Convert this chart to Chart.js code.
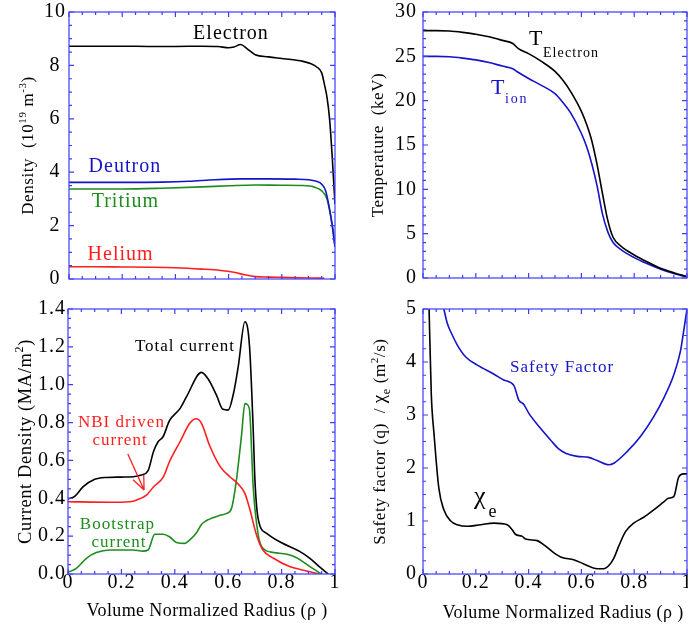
<!DOCTYPE html>
<html lang="en">
<head>
<meta charset="UTF-8">
<title>Plasma profiles</title>
<script src="https://cdn.jsdelivr.net/npm/chart.js@4.4.1/dist/chart.umd.min.js"></script>
<style>
  * { margin: 0; padding: 0; box-sizing: border-box; }
  body { background: #fff; width: 688px; height: 628px; overflow: hidden; position: relative; }
  .panel { position: absolute; }
</style>
</head>
<body>
<div class="panel" style="left:0;top:0"><canvas id="density" width="344" height="300"></canvas></div>
<div class="panel" style="left:344px;top:0"><canvas id="temperature" width="354" height="300"></canvas></div>
<div class="panel" style="left:0;top:295px"><canvas id="current" width="344" height="333"></canvas></div>
<div class="panel" style="left:344px;top:295px"><canvas id="safety" width="354" height="333"></canvas></div>

<script>
// ---- density (10^19 m^-3) ----
const rhoElectron = [0, 0.1, 0.2, 0.3, 0.4, 0.5, 0.56, 0.6, 0.62, 0.645, 0.67, 0.7, 0.75, 0.8, 0.85, 0.88, 0.91, 0.93, 0.95, 0.96, 0.97, 0.98, 0.99, 1.0];
const nElectron   = [8.72, 8.72, 8.72, 8.71, 8.71, 8.72, 8.71, 8.66, 8.69, 8.78, 8.62, 8.4, 8.32, 8.26, 8.2, 8.15, 8.06, 7.95, 7.72, 7.3, 6.8, 5.95, 4.5, 2.8];
const rhoDeutron  = [0, 0.2, 0.35, 0.45, 0.55, 0.65, 0.75, 0.85, 0.9, 0.93, 0.95, 0.965, 0.98, 0.99, 1.0];
const nDeutron    = [3.62, 3.62, 3.63, 3.66, 3.72, 3.75, 3.75, 3.74, 3.72, 3.66, 3.55, 3.3, 2.6, 2.0, 1.2];
const rhoTritium  = [0, 0.2, 0.35, 0.5, 0.6, 0.7, 0.8, 0.88, 0.92, 0.95, 0.97, 0.98, 0.99, 1.0];
const nTritium    = [3.37, 3.37, 3.4, 3.45, 3.49, 3.52, 3.51, 3.5, 3.45, 3.3, 3.0, 2.55, 1.95, 1.2];
const rhoHelium   = [0, 0.1, 0.2, 0.3, 0.4, 0.5, 0.57, 0.62, 0.66, 0.7, 0.75, 0.8, 0.9, 0.96];
const nHelium     = [0.46, 0.46, 0.45, 0.44, 0.42, 0.37, 0.32, 0.25, 0.16, 0.09, 0.07, 0.06, 0.04, 0.03];

// ---- temperature (keV) ----
const rhoTemp   = [0, 0.05, 0.1, 0.15, 0.2, 0.25, 0.3, 0.34, 0.36, 0.4, 0.45, 0.5, 0.53, 0.56, 0.6, 0.62, 0.64, 0.66, 0.68, 0.7, 0.72, 0.75, 0.8, 0.85, 0.9, 0.95, 1.0];
const tElectron = [27.9, 27.9, 27.85, 27.7, 27.5, 27.2, 26.8, 26.45, 25.9, 25.3, 24.4, 23.3, 22.3, 21.0, 18.8, 17.3, 15.4, 12.7, 9.5, 6.5, 4.6, 3.6, 2.6, 1.8, 1.1, 0.6, 0.15];
const tIon      = [25.0, 25.0, 24.95, 24.8, 24.6, 24.3, 23.9, 23.6, 23.2, 22.5, 21.7, 20.8, 19.8, 18.6, 16.3, 14.8, 12.8, 10.3, 7.2, 5.2, 4.0, 3.2, 2.3, 1.6, 1.0, 0.5, 0.12];

// ---- current density (MA/m^2) ----
const rhoTotal  = [0, 0.025, 0.056, 0.1, 0.144, 0.2, 0.244, 0.275, 0.3, 0.32, 0.338, 0.356, 0.38, 0.42, 0.444, 0.5, 0.525, 0.556, 0.58, 0.6, 0.62, 0.638, 0.6625, 0.68, 0.694, 0.7, 0.7125, 0.744, 0.8, 0.869, 0.906, 0.94, 0.975];
const jTotal    = [0.396, 0.41, 0.46, 0.5, 0.51, 0.512, 0.514, 0.523, 0.546, 0.646, 0.7, 0.725, 0.81, 0.875, 0.937, 1.065, 1.03, 0.945, 0.87, 0.866, 0.955, 1.1, 1.333, 1.2, 0.75, 0.5, 0.29, 0.215, 0.165, 0.118, 0.083, 0.04, 0];
const rhoNbi    = [0, 0.156, 0.23, 0.256, 0.294, 0.32, 0.356, 0.38, 0.42, 0.456, 0.48, 0.5, 0.53, 0.57, 0.606, 0.638, 0.6625, 0.68, 0.706, 0.73, 0.77, 0.83, 0.894, 0.94];
const jNbi      = [0.382, 0.379, 0.382, 0.39, 0.417, 0.46, 0.51, 0.593, 0.7, 0.796, 0.82, 0.796, 0.68, 0.567, 0.514, 0.474, 0.426, 0.347, 0.206, 0.127, 0.083, 0.039, 0.016, 0];
const rhoBoot   = [0, 0.031, 0.069, 0.106, 0.156, 0.244, 0.28, 0.3, 0.325, 0.356, 0.38, 0.406, 0.4375, 0.456, 0.48, 0.5, 0.53, 0.57, 0.594, 0.6125, 0.63, 0.65, 0.6625, 0.679, 0.694, 0.7125, 0.73, 0.77, 0.82, 0.856, 0.906, 0.95];
const jBoot     = [0.009, 0.03, 0.083, 0.113, 0.127, 0.127, 0.121, 0.127, 0.21, 0.21, 0.197, 0.167, 0.162, 0.18, 0.215, 0.262, 0.29, 0.31, 0.32, 0.347, 0.488, 0.734, 0.9, 0.875, 0.452, 0.206, 0.136, 0.114, 0.104, 0.086, 0.039, 0];

// ---- safety factor q and chi_e (m^2/s) ----
const rhoQ = [0.079, 0.092, 0.105, 0.13, 0.161, 0.206, 0.269, 0.306, 0.344, 0.363, 0.382, 0.401, 0.445, 0.483, 0.514, 0.54, 0.584, 0.628, 0.66, 0.704, 0.723, 0.773, 0.823, 0.874, 0.912, 0.95, 0.975, 0.987, 1.0];
const qVal = [5.0, 4.73, 4.57, 4.32, 4.1, 3.94, 3.77, 3.66, 3.56, 3.28, 3.2, 3.03, 2.75, 2.53, 2.36, 2.28, 2.22, 2.2, 2.14, 2.06, 2.09, 2.31, 2.59, 2.97, 3.32, 3.76, 4.2, 4.57, 5.0];
const rhoChi = [0.023, 0.0315, 0.042, 0.06, 0.079, 0.105, 0.13, 0.168, 0.218, 0.269, 0.319, 0.338, 0.35, 0.376, 0.388, 0.4325, 0.458, 0.496, 0.527, 0.571, 0.609, 0.66, 0.685, 0.704, 0.723, 0.741, 0.767, 0.798, 0.836, 0.874, 0.912, 0.93, 0.95, 0.968, 0.987, 1.0];
const chiVal = [5.0, 3.38, 2.63, 1.62, 1.21, 1.0, 0.93, 0.9, 0.93, 0.96, 0.93, 0.835, 0.75, 0.71, 0.66, 0.63, 0.55, 0.4, 0.31, 0.27, 0.19, 0.1, 0.1, 0.16, 0.3, 0.52, 0.8, 0.96, 1.07, 1.21, 1.36, 1.43, 1.46, 1.82, 1.89, 1.89];

const xTicks = ['0', '0.2', '0.4', '0.6', '0.8', '1'];

const BLACK = '#000000', BLUE = '#1414c8', GREEN = '#1e8c1e', RED = '#ff1e1e';
const FRAME = '#3c3cff';
const SERIF = '"Liberation Serif", "Times New Roman", serif';

function pts(xs, ys) {
  return xs.map((x, i) => ({ x: x, y: ys[i] }));
}

// per-panel decorations: frame ticks, axis titles, in-plot notes
const panelCfg = {
  density: {
    x: [0.2, 0.05], y: [2, 0.5],
    yTitle: { x: 27, parts: [['Density  (10', 17, 0], ['19', 11, -7], [' m', 17, 0], ['-3', 11, -7], [')', 17, 0]] },
    notes: [
      { text: 'Electron', x: 0.609, y: 9.2, color: BLACK, size: 20 },
      { text: 'Deutron', x: 0.21, y: 4.19, color: BLUE, size: 20 },
      { text: 'Tritium', x: 0.212, y: 2.9, color: GREEN, size: 20 },
      { text: 'Helium', x: 0.194, y: 0.9, color: RED, size: 20 }
    ]
  },
  temperature: {
    x: [0.2, 0.05], y: [5, 1],
    yTitle: { x: 33, parts: [['Temperature  (keV)', 17, 0]] },
    notes: [
      { text: 'T', sub: 'Electron', x: 0.4015, y: 26.3, color: BLACK, size: 22, subSize: 14, subDy: 11.7 },
      { text: 'T', sub: 'ion', x: 0.258, y: 20.8, color: BLUE, size: 22, subSize: 14, subDy: 9.5, subSpacing: 1.8 }
    ]
  },
  current: {
    x: [0.2, 0.05], y: [0.2, 0.05],
    yTitle: { x: 25, parts: [['Current Density (MA/m', 18.5, 0], ['2', 12, -8], [')', 18.5, 0]] },
    xTitle: { x: 207, y: 315 },
    notes: [
      { text: 'Total current', x: 0.438, y: 1.2, color: BLACK, size: 17 },
      { text: 'NBI driven', x: 0.2, y: 0.799, color: RED, size: 17 },
      { text: 'current', x: 0.195, y: 0.704, color: RED, size: 17 },
      { text: 'Bootstrap', x: 0.185, y: 0.259, color: GREEN, size: 17 },
      { text: 'current', x: 0.191, y: 0.164, color: GREEN, size: 17 }
    ],
    arrow: { from: [0.224, 0.634], to: [0.285, 0.444], color: RED }
  },
  safety: {
    x: [0.2, 0.05], y: [1, 0.25],
    yTitle: { x: 35.5, parts: [['Safety factor (q)  / ', 17, 0], ['\u03c7', 19, 0], ['e', 12, 5], [' (m', 17, 0], ['2', 11, -7], ['/s)', 17, 0]] },
    xTitle: { x: 219, y: 317 },
    notes: [
      { text: 'Safety Factor', x: 0.527, y: 3.89, color: BLUE, size: 17 },
      { text: '\u03c7', sub: 'e', x: 0.193, y: 1.33, color: BLACK, size: 26, subSize: 18, subDy: 13, subGap: 3 }
    ]
  }
};

function font(size) {
  return size + 'px ' + SERIF;
}

function drawParts(ctx, parts, cx, cy, spacing) {
  ctx.letterSpacing = spacing + 'px';
  let total = 0;
  parts.forEach(p => { ctx.font = font(p[1]); total += ctx.measureText(p[0]).width; });
  let x = cx - total / 2;
  const base = cy + 0.33 * parts[0][1];
  ctx.textAlign = 'left';
  ctx.textBaseline = 'alphabetic';
  parts.forEach(p => {
    ctx.font = font(p[1]);
    ctx.fillText(p[0], x, base + p[2]);
    x += ctx.measureText(p[0]).width;
  });
}

const framePlugin = {
  id: 'frame',
  beforeDraw(chart) {
    chart.ctx.letterSpacing = '1px';
  },
  afterDraw(chart) {
    const cfg = panelCfg[chart.canvas.id];
    const ctx = chart.ctx;
    const a = chart.chartArea;
    const xs = chart.scales.x, ys = chart.scales.y;
    ctx.save();

    // border and inward ticks on all four sides
    ctx.strokeStyle = FRAME;
    ctx.lineWidth = 1.2;
    ctx.strokeRect(a.left, a.top, a.right - a.left, a.bottom - a.top);
    ctx.beginPath();
    const nx = Math.round((xs.max - xs.min) / cfg.x[1]);
    for (let i = 0; i <= nx; i++) {
      const v = xs.min + i * cfg.x[1];
      const major = Math.abs(v / cfg.x[0] - Math.round(v / cfg.x[0])) < 1e-6;
      const len = major ? 5 : 3;
      const px = xs.getPixelForValue(v);
      ctx.moveTo(px, a.bottom); ctx.lineTo(px, a.bottom - len);
      ctx.moveTo(px, a.top); ctx.lineTo(px, a.top + len);
    }
    const ny = Math.round((ys.max - ys.min) / cfg.y[1]);
    for (let i = 0; i <= ny; i++) {
      const v = ys.min + i * cfg.y[1];
      const major = Math.abs(v / cfg.y[0] - Math.round(v / cfg.y[0])) < 1e-6;
      const len = major ? 5 : 3;
      const py = ys.getPixelForValue(v);
      ctx.moveTo(a.left, py); ctx.lineTo(a.left + len, py);
      ctx.moveTo(a.right, py); ctx.lineTo(a.right - len, py);
    }
    ctx.stroke();

    // notes inside the plot
    cfg.notes.forEach(n => {
      const px = xs.getPixelForValue(n.x), py = ys.getPixelForValue(n.y);
      ctx.fillStyle = n.color;
      if (n.sub) {
        ctx.letterSpacing = '0px';
        ctx.font = font(n.size);
        ctx.textAlign = 'left';
        ctx.textBaseline = 'alphabetic';
        ctx.fillText(n.text, px, py);
        const w = ctx.measureText(n.text).width;
        ctx.letterSpacing = (n.subSpacing || 1.1) + 'px';
        ctx.font = font(n.subSize);
        ctx.fillText(n.sub, px + w + (n.subGap || 0.5), py + n.subDy);
      } else {
        ctx.letterSpacing = '1px';
        ctx.font = font(n.size);
        ctx.textAlign = 'center';
        ctx.textBaseline = 'middle';
        ctx.fillText(n.text, px, py);
      }
    });

    // arrow
    if (cfg.arrow) {
      const x0 = xs.getPixelForValue(cfg.arrow.from[0]), y0 = ys.getPixelForValue(cfg.arrow.from[1]);
      const x1 = xs.getPixelForValue(cfg.arrow.to[0]), y1 = ys.getPixelForValue(cfg.arrow.to[1]);
      const ang = Math.atan2(y1 - y0, x1 - x0);
      ctx.strokeStyle = cfg.arrow.color;
      ctx.lineWidth = 1.3;
      ctx.beginPath();
      ctx.moveTo(x0, y0); ctx.lineTo(x1, y1);
      [0.4, -0.4].forEach(d => {
        ctx.moveTo(x1, y1);
        ctx.lineTo(x1 - 15 * Math.cos(ang + d), y1 - 15 * Math.sin(ang + d));
      });
      ctx.stroke();
    }

    // axis titles
    ctx.fillStyle = BLACK;
    ctx.save();
    ctx.translate(cfg.yTitle.x, (a.top + a.bottom) / 2 + (cfg.yTitle.dy || 0));
    ctx.rotate(-Math.PI / 2);
    drawParts(ctx, cfg.yTitle.parts, 0, 0, 0.6);
    ctx.restore();
    if (cfg.xTitle) {
      drawParts(ctx, [['Volume Normalized Radius (\u03c1 )', 18, 0]], cfg.xTitle.x, cfg.xTitle.y, 0.4);
    }
    ctx.restore();
  }
};

function makeChart(id, datasets, o) {
  const tickFont = { family: SERIF, size: 20 };
  return new Chart(document.getElementById(id), {
    type: 'line',
    data: { datasets: datasets },
    options: {
      responsive: false,
      animation: false,
      layout: { padding: o.pad },
      plugins: { legend: { display: false }, tooltip: { enabled: false } },
      elements: {
        point: { radius: 0 },
        line: { borderWidth: 1.6, cubicInterpolationMode: 'monotone', fill: false }
      },
      scales: {
        x: {
          type: 'linear', min: 0, max: 1,
          display: o.xLabels,
          grid: { display: false, drawTicks: false },
          border: { display: false },
          ticks: {
            stepSize: 0.2, autoSkip: false, maxRotation: 0, padding: -3,
            color: BLACK, font: tickFont,
            callback: (v) => xTicks[Math.round(v / 0.2)]
          },
          afterFit: (s) => { s.height = o.xLabels ? 54 : 0; s.paddingLeft = 0; s.paddingRight = 0; }
        },
        y: {
          type: 'linear', min: o.yMin, max: o.yMax,
          grid: { display: false, drawTicks: false },
          border: { display: false },
          ticks: {
            stepSize: o.yStep, autoSkip: false, padding: o.yPad,
            crossAlign: o.crossAlign || 'near',
            color: BLACK, font: tickFont,
            callback: (v) => v.toFixed(o.yDigits)
          },
          afterFit: (s) => { s.width = o.yWidth; s.paddingTop = 0; s.paddingBottom = 0; }
        }
      }
    },
    plugins: [framePlugin]
  });
}

makeChart('density', [
  { data: pts(rhoElectron, nElectron), borderColor: BLACK },
  { data: pts(rhoDeutron, nDeutron), borderColor: BLUE },
  { data: pts(rhoTritium, nTritium), borderColor: GREEN },
  { data: pts(rhoHelium, nHelium), borderColor: RED }
], { pad: { left: 0, top: 12, right: 9, bottom: 21 }, xLabels: false, yMin: 0, yMax: 10, yStep: 2, yDigits: 0, yWidth: 69, yPad: 4, crossAlign: 'center' });

makeChart('temperature', [
  { data: pts(rhoTemp, tElectron), borderColor: BLACK },
  { data: pts(rhoTemp, tIon), borderColor: BLUE }
], { pad: { left: 0, top: 12, right: 11, bottom: 22 }, xLabels: false, yMin: 0, yMax: 30, yStep: 5, yDigits: 0, yWidth: 79, yPad: 6 });

makeChart('current', [
  { data: pts(rhoTotal, jTotal), borderColor: BLACK },
  { data: pts(rhoNbi, jNbi), borderColor: RED },
  { data: pts(rhoBoot, jBoot), borderColor: GREEN }
], { pad: { left: 0, top: 14, right: 9, bottom: 0 }, xLabels: true, yMin: 0, yMax: 1.4, yStep: 0.2, yDigits: 1, yWidth: 68, yPad: 2 });

makeChart('safety', [
  { data: pts(rhoQ, qVal), borderColor: BLUE },
  { data: pts(rhoChi, chiVal), borderColor: BLACK }
], { pad: { left: 0, top: 14, right: 11, bottom: 0 }, xLabels: true, yMin: 0, yMax: 5, yStep: 1, yDigits: 0, yWidth: 79, yPad: 6 });
</script>
</body>
</html>
